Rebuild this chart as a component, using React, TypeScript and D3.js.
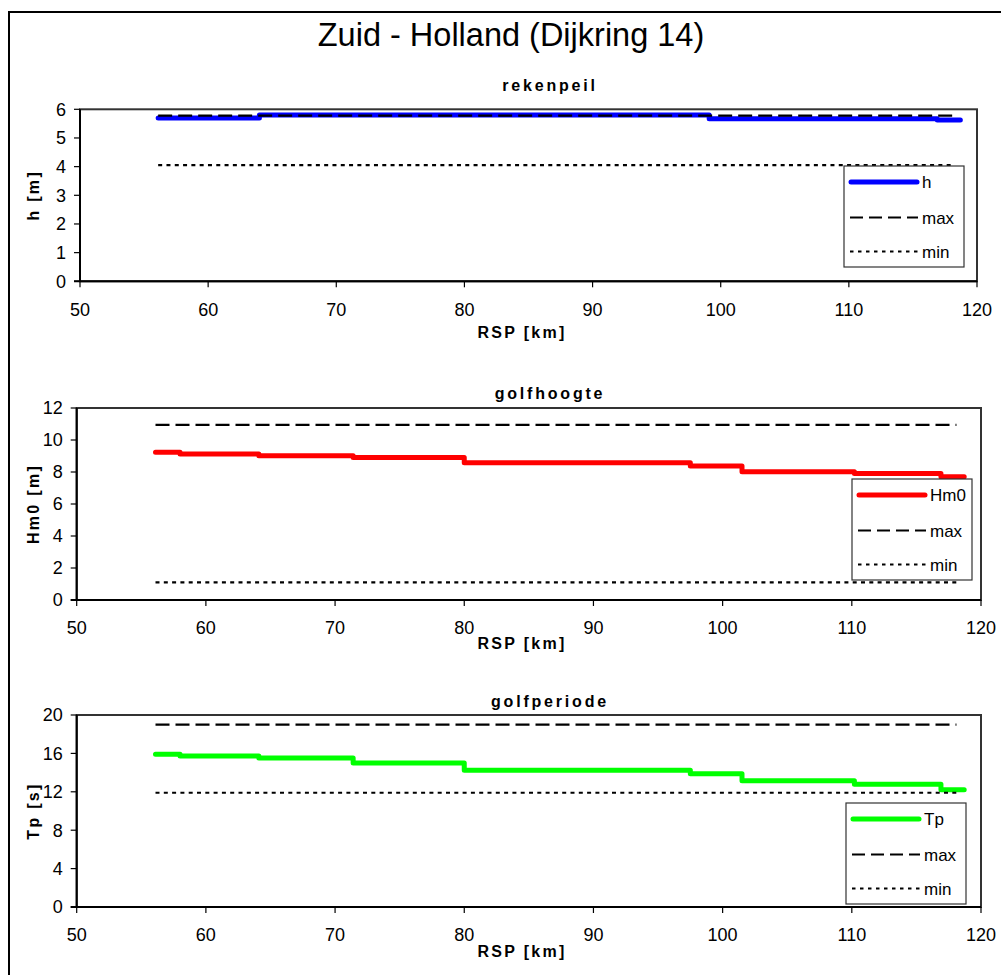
import React from 'react';
import * as d3 from 'd3';

// RSP section boundaries [km] (shared by golfhoogte and golfperiode)
const rspSections = [56.1, 58.0, 64.1, 71.4, 80.0, 97.5, 101.5, 110.2, 116.9, 118.7];
const hm0Values = [9.23, 9.13, 9.02, 8.9, 8.58, 8.38, 8.02, 7.9, 7.71];
const tpValues = [15.9, 15.73, 15.52, 15.0, 14.24, 13.89, 13.16, 12.78, 12.22];

// rekenpeil has its own breakpoints
const rspH = [56.1, 64.0, 99.1, 116.9, 118.7];
const hValues = [5.7, 5.8, 5.67, 5.63];

// max / min limits
const limitRsp = [56.1, 118.1];
const hMax = [5.78, 5.78];
const hMin = [4.05, 4.05];
const hm0Max = [10.95, 10.95];
const hm0Min = [1.1, 1.1];
const tpMax = [19, 19];
const tpMin = [11.9, 11.9];

const xTicks = [50, 60, 70, 80, 90, 100, 110, 120];
const hTicks = [0, 1, 2, 3, 4, 5, 6];
const hm0Ticks = [0, 2, 4, 6, 8, 10, 12];
const tpTicks = [0, 4, 8, 12, 16, 20];

const FONT = "Arial, 'Liberation Sans', sans-serif";

// repeat last value so the step line runs to the final boundary
const stepPoints = (xs: number[], ys: number[]) =>
  xs.map((x, i) => [x, ys[Math.min(i, ys.length - 1)]] as [number, number]);

const panels = [
  {
    title: 'rekenpeil', yLabel: 'h [m]', name: 'h', color: '#0000ff',
    xs: rspH, ys: hValues, max: hMax, min: hMin, yTicks: hTicks,
    left: 80, right: 977, top: 109.3, bottom: 281.3,
    titleY: 91, tickY: 316, xLabelY: 338, legendX: 844, legendY: 166,
  },
  {
    title: 'golfhoogte', yLabel: 'Hm0 [m]', name: 'Hm0', color: '#ff0000',
    xs: rspSections, ys: hm0Values, max: hm0Max, min: hm0Min, yTicks: hm0Ticks,
    left: 76.7, right: 981, top: 408, bottom: 600,
    titleY: 399, tickY: 634, xLabelY: 649, legendX: 852, legendY: 479,
  },
  {
    title: 'golfperiode', yLabel: 'Tp [s]', name: 'Tp', color: '#00ff00',
    xs: rspSections, ys: tpValues, max: tpMax, min: tpMin, yTicks: tpTicks,
    left: 76.7, right: 981, top: 715, bottom: 907,
    titleY: 707, tickY: 940.7, xLabelY: 956.7, legendX: 846, legendY: 803,
  },
];

function Panel({ p }: { p: typeof panels[number] }) {
  const x = d3.scaleLinear().domain([50, 120]).range([p.left, p.right]);
  const y = d3.scaleLinear()
    .domain([0, p.yTicks[p.yTicks.length - 1]])
    .range([p.bottom, p.top]);

  const line = d3.line<[number, number]>()
    .x(d => x(d[0]))
    .y(d => y(d[1]))
    .curve(d3.curveStepAfter);

  const limitLine = (vals: number[]) =>
    d3.line<number>().x((_, i) => x(limitRsp[i])).y(d => y(d))(vals) || '';

  const yMid = (p.top + p.bottom) / 2;
  const lg = { x: p.legendX, y: p.legendY, w: 120, h: 101 };
  const rows = [16, 51.5, 85.5];

  return (
    <g>
      <text x={550} y={p.titleY} textAnchor="middle" fontFamily={FONT}
        fontWeight="bold" fontSize={16} letterSpacing={2.8}>{p.title}</text>

      <rect x={p.left} y={p.top} width={p.right - p.left} height={p.bottom - p.top}
        fill="#fff" stroke="#333" strokeWidth={2} />

      <path d={line(stepPoints(p.xs, p.ys)) || ''} fill="none" stroke={p.color}
        strokeWidth={5} strokeLinecap="round" strokeLinejoin="round" />
      <path d={limitLine(p.max)} fill="none" stroke="#000" strokeWidth={2.2}
        strokeDasharray="14,6" />
      <path d={limitLine(p.min)} fill="none" stroke="#000" strokeWidth={2.2}
        strokeDasharray="4,4.3" />

      {/* axes */}
      <line x1={p.left} x2={p.left} y1={p.top} y2={p.bottom} stroke="#000" strokeWidth={2} />
      <line x1={p.left - 6} x2={p.right} y1={p.bottom} y2={p.bottom} stroke="#000" strokeWidth={2} />
      {p.yTicks.map(t => (
        <g key={'y' + t}>
          <line x1={p.left - 6} x2={p.left} y1={y(t)} y2={y(t)} stroke="#000" strokeWidth={1.2} />
          <text x={p.left - 14} y={y(t)} dy="0.36em" textAnchor="end"
            fontFamily={FONT} fontSize={18}>{t}</text>
        </g>
      ))}
      {xTicks.map(t => (
        <g key={'x' + t}>
          <line x1={x(t)} x2={x(t)} y1={p.bottom} y2={p.bottom + 6} stroke="#000" strokeWidth={1.2} />
          <text x={x(t)} y={p.tickY} textAnchor="middle" fontFamily={FONT} fontSize={18}>{t}</text>
        </g>
      ))}

      <text x={522} y={p.xLabelY} textAnchor="middle" fontFamily={FONT}
        fontWeight="bold" fontSize={16} letterSpacing={2.3}>RSP [km]</text>
      <text transform={`translate(33,${yMid}) rotate(-90)`} dy="0.36em" textAnchor="middle"
        fontFamily={FONT} fontWeight="bold" fontSize={16} letterSpacing={2.3}>{p.yLabel}</text>

      {/* legend */}
      <rect x={lg.x} y={lg.y} width={lg.w} height={lg.h} fill="#fff" stroke="#333" strokeWidth={1.2} />
      <line x1={lg.x + 7} x2={lg.x + 73} y1={lg.y + rows[0]} y2={lg.y + rows[0]}
        stroke={p.color} strokeWidth={5} strokeLinecap="round" />
      <line x1={lg.x + 6} x2={lg.x + 74} y1={lg.y + rows[1]} y2={lg.y + rows[1]}
        stroke="#000" strokeWidth={2} strokeDasharray="13,6" />
      <line x1={lg.x + 6} x2={lg.x + 74} y1={lg.y + rows[2]} y2={lg.y + rows[2]}
        stroke="#000" strokeWidth={2} strokeDasharray="3.5,4.5" />
      {[p.name, 'max', 'min'].map((s, i) => (
        <text key={s} x={lg.x + 78} y={lg.y + rows[i]} dy="0.36em"
          fontFamily={FONT} fontSize={17}>{s}</text>
      ))}
    </g>
  );
}

export default function App() {
  return (
    <svg width={1001} height={975}
      style={{ position: 'absolute', left: 0, top: 0, background: '#fff' }}>
      <rect x={0} y={0} width={1001} height={975} fill="#fff" />
      <path d="M9,990 L9,12 L1010,12" fill="none" stroke="#000" strokeWidth={2} />
      <text x={511} y={46} textAnchor="middle" fontFamily={FONT} fontSize={32.5}>
        Zuid - Holland (Dijkring 14)
      </text>
      {panels.map(p => <Panel key={p.title} p={p} />)}
    </svg>
  );
}
